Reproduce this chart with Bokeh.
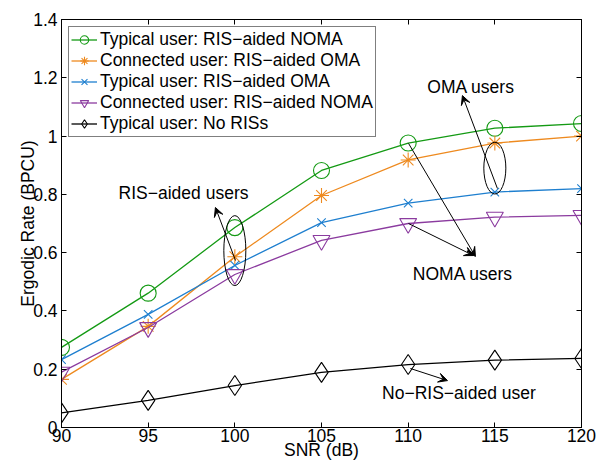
from bokeh.plotting import figure
from bokeh.models import (Range1d, FixedTicker, LinearAxis, Legend, LegendItem,
                          Label, Arrow, VeeHead, Ellipse, ColumnDataSource)
from bokeh.embed import file_html
from bokeh.resources import INLINE

# ---- data -------------------------------------------------------------
snr = [90, 95, 100, 105, 110, 115, 120]
typical_ris_noma = [0.275, 0.461, 0.686, 0.882, 0.976, 1.027, 1.043]
connected_ris_oma = [0.165, 0.347, 0.586, 0.796, 0.918, 0.976, 1.0]
typical_ris_oma = [0.233, 0.388, 0.556, 0.703, 0.770, 0.808, 0.820]
connected_ris_noma = [0.19, 0.343, 0.525, 0.642, 0.700, 0.722, 0.728]
typical_no_ris = [0.05, 0.093, 0.144, 0.189, 0.216, 0.231, 0.237]

series_labels = [
    "Typical user: RIS\u2212aided NOMA",
    "Connected user: RIS\u2212aided OMA",
    "Typical user: RIS\u2212aided OMA",
    "Connected user: RIS\u2212aided NOMA",
    "Typical user: No RISs",
]

x_ticks = [90, 95, 100, 105, 110, 115, 120]
y_ticks = [0, 0.2, 0.4, 0.6, 0.8, 1, 1.2, 1.4]
y_tick_labels = ["0", "0.2", "0.4", "0.6", "0.8", "1", "1.2", "1.4"]

FONT = "Liberation Sans"
FS = "17.5px"

p = figure(width=602, height=463, output_backend="svg", toolbar_location=None,
           x_range=Range1d(90, 120), y_range=Range1d(0, 1.4),
           min_border_left=61, min_border_right=21, min_border_top=19,
           min_border_bottom=36)
p.xgrid.visible = False
p.ygrid.visible = False
p.outline_line_color = "black"
p.background_fill_color = "white"
p.border_fill_color = "white"


def style_axis(ax):
    ax.major_tick_in = 5
    ax.major_tick_out = 0
    ax.minor_tick_line_color = None
    ax.axis_line_color = "black"
    ax.major_tick_line_color = "black"
    ax.major_label_text_font = FONT
    ax.major_label_text_color = "black"
    ax.major_label_text_font_size = FS
    ax.axis_label_text_font = FONT
    ax.axis_label_text_font_style = "normal"
    ax.axis_label_text_color = "black"
    ax.axis_label_text_font_size = FS


xax = p.xaxis[0]
yax = p.yaxis[0]
xax.ticker = FixedTicker(ticks=x_ticks)
yax.ticker = FixedTicker(ticks=y_ticks)
yax.major_label_overrides = dict(zip(y_ticks, y_tick_labels))
style_axis(xax)
style_axis(yax)
xax.axis_label = "SNR (dB)"
yax.axis_label = "Ergodic Rate (BPCU)"
xax.major_label_standoff = 1
xax.axis_label_standoff = -5
yax.major_label_standoff = 4
yax.axis_label_standoff = -8

# box frame: axes on top and right with inward ticks and blank labels
top_ax = LinearAxis(ticker=FixedTicker(ticks=x_ticks))
right_ax = LinearAxis(ticker=FixedTicker(ticks=y_ticks))
for ax, ticks in ((top_ax, x_ticks), (right_ax, y_ticks)):
    style_axis(ax)
    ax.major_label_overrides = {t: "" for t in ticks}
    ax.major_label_text_font_size = "1px"
    ax.major_label_standoff = 0
p.add_layout(top_ax, "above")
p.add_layout(right_ax, "right")

# ---- curves -----------------------------------------------------------
colors = ["#149a14", "#ee8a1f", "#1e7fcf", "#8b3b9f", "#000000"]
markers = ["circle", "asterisk", "x", "inverted_triangle", "diamond"]
sizes = [16, 15, 12, 17, 20]
series = [typical_ris_noma, connected_ris_oma, typical_ris_oma,
          connected_ris_noma, typical_no_ris]

items = []
for vals, col, mk, sz, lab in zip(series, colors, markers, sizes, series_labels):
    src = ColumnDataSource(dict(x=snr, y=vals))
    ln = p.line("x", "y", source=src, line_color=col, line_width=1.3)
    sc = p.scatter("x", "y", source=src, marker=mk, size=sz, line_color=col,
                   fill_color=None, line_width=1.1)
    items.append(LegendItem(label=lab, renderers=[ln, sc]))

legend = Legend(items=items, location="top_left", padding=2, spacing=0,
                glyph_width=26, glyph_height=21, label_height=21,
                label_standoff=3, margin=7,
                label_text_font=FONT, label_text_font_size=FS,
                label_text_color="black",
                border_line_color="black", border_line_width=1,
                background_fill_color="white", background_fill_alpha=1)
p.add_layout(legend, "center")

# ---- annotations ------------------------------------------------------
ell_src = ColumnDataSource(dict(x=[100.0, 115.0], y=[0.607, 0.89],
                                w=[1.27, 1.27], h=[0.24, 0.178]))
p.add_glyph(ell_src, Ellipse(x="x", y="y", width="w", height="h",
                             fill_color=None, line_color="black", line_width=1))

arrows = [
    (100.04, 0.573, 98.88, 0.755),
    (115.15, 0.82, 113.13, 1.139),
    (110.02, 0.975, 113.88, 0.587),
    (110.02, 0.70, 113.77, 0.590),
    (110.13, 0.2025, 112.27, 0.161),
]
for xs, ys, xe, ye in arrows:
    p.add_layout(Arrow(x_start=xs, y_start=ys, x_end=xe, y_end=ye,
                       line_color="black", line_width=1,
                       end=VeeHead(size=9, fill_color="black",
                                   line_color="black", line_width=1)))

notes = [
    ("RIS\u2212aided users", 97.04, 0.803),
    ("OMA users", 113.63, 1.17),
    ("NOMA users", 113.16, 0.528),
    ("No\u2212RIS\u2212aided user", 112.93, 0.117),
]
for txt, tx, ty in notes:
    p.add_layout(Label(x=tx, y=ty, text=txt, text_align="center",
                       text_baseline="middle", text_font=FONT,
                       text_font_size=FS, text_color="black"))

open("out.html", "w").write(file_html(p, INLINE))
